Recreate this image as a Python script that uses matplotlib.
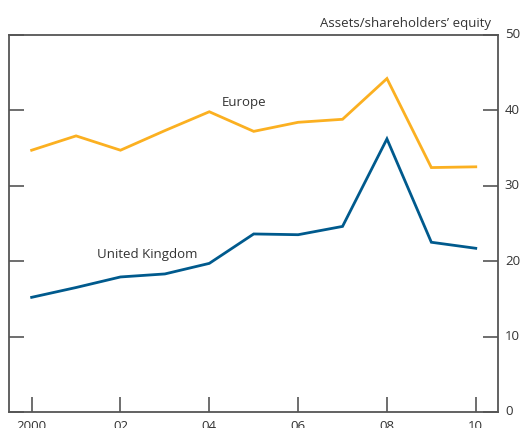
import matplotlib
matplotlib.use("Agg")
import matplotlib.pyplot as plt

# leverage ratios
years = [2000, 2001, 2002, 2003, 2004, 2005, 2006, 2007, 2008, 2009, 2010]
europe = [34.7, 36.6, 34.7, 37.3, 39.8, 37.2, 38.4, 38.8, 44.2, 32.4, 32.5]
uk = [15.2, 16.5, 17.9, 18.3, 19.7, 23.6, 23.5, 24.6, 36.2, 22.5, 21.7]
xtick_labels = ["2000", "02", "04", "06", "08", "10"]

plt.rcParams["font.family"] = ["Open Sans", "DejaVu Sans"]
spine_col = "#555555"
text_col = "#333333"

fig = plt.figure(figsize=(5.25, 4.28), dpi=100)
ax = fig.add_axes([0.018, 0.0374, 0.9305, 0.8813])

ax.plot(years, europe, color="#FBB021", lw=2.0, solid_joinstyle="miter")
ax.plot(years, uk, color="#005A8D", lw=2.0, solid_joinstyle="miter")

ax.set_xlim(1999.5, 2010.5)
ax.set_ylim(0, 50)

ax.set_xticks(years[::2])
ax.set_xticklabels(xtick_labels)
ax.set_yticks(range(0, 51, 10))

for s in ax.spines.values():
    s.set_color(spine_col)
    s.set_linewidth(1.3)

ax.tick_params(axis="x", direction="in", length=11, width=1.2, color=spine_col,
               labelsize=9.5, labelcolor=text_col, pad=6)
ax.tick_params(axis="y", direction="in", length=11, width=1.2, color=spine_col,
               left=True, right=True, labelleft=False, labelright=True,
               labelsize=9.5, labelcolor=text_col, pad=5)
for lab in ax.get_yticklabels():
    lab.set_verticalalignment("center")

ax.text(2004.28, 41.0, "Europe", fontsize=9.5, color=text_col, va="center", ha="left")
ax.text(2001.47, 20.9, "United Kingdom", fontsize=9.5, color=text_col, va="center", ha="left")
ax.text(0.985, 1.012, "Assets/shareholders\u2019 equity", transform=ax.transAxes,
        fontsize=9.5, color=text_col, ha="right", va="bottom")

fig.savefig("out.png", dpi=100)
